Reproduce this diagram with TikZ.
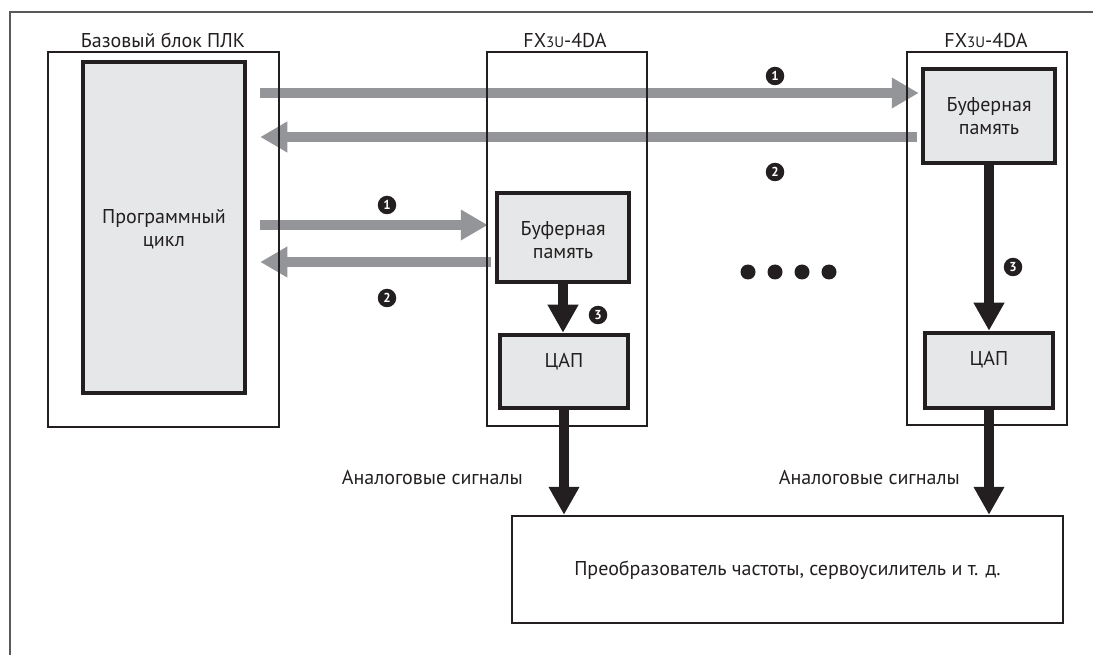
\documentclass[tikz,border=0pt]{standalone}
\usepackage{fontspec}
\setmainfont{PT Sans}
\usetikzlibrary{arrows.meta,calc}
\definecolor{ink}{HTML}{231F20}
\definecolor{boxfill}{HTML}{E6E7E8}
\definecolor{arrgray}{HTML}{939598}
\definecolor{framegray}{HTML}{58595B}
\tikzset{
  txt/.style={text=ink,font=\fontsize{20}{23}\selectfont,inner sep=0pt,align=center},
  modbox/.style={draw=ink,line width=2.2pt,inner sep=0pt},
  innerbox/.style={draw=ink,fill=boxfill,line width=4.5pt,inner sep=0pt},
  outbox/.style={draw=ink,line width=2.4pt,inner sep=0pt},
  garrow/.style={draw=arrgray,line width=10pt,-{Triangle[length=27pt,width=29pt]}},
  barrow/.style={draw=ink,line width=10pt,-{Triangle[length=28pt,width=29pt]}},
  num/.style={circle,fill=ink,text=white,inner sep=0pt,minimum size=18.5pt,font=\fontsize{13}{13}\selectfont\bfseries},
  dot/.style={circle,fill=ink,inner sep=0pt,minimum size=15pt},
}
\begin{document}
\begin{tikzpicture}[x=1pt,y=-1pt]
\useasboundingbox (0,0) rectangle (1093,655);
% outer frame (cropped)
\draw[framegray,line width=2pt] (10,655) -- (10,12) -- (1093,12);

% titles
\node[txt] (tplc) at (163,40) {Базовый блок ПЛК};
\node[txt] (tm1) at (565,40) {FX{\fontsize{15}{15}\selectfont 3U}-4DA};
\node[txt] (tm2) at (986,40) {FX{\fontsize{15}{15}\selectfont 3U}-4DA};

% inner boxes
\node[innerbox,minimum width=162pt,minimum height=331pt] (cycle) at (164,227.5) {};
\node[txt] (cycletxt) at (164,229) {Программный\\цикл};

\node[innerbox,minimum width=132pt,minimum height=89pt] (mbuf) at (563,237.5) {};
\node[txt] (mbuftxt) at (563,240) {Буферная\\память};
\node[innerbox,minimum width=128pt,minimum height=73pt] (mdac) at (564,371.5) {};
\node[txt] (mdactxt) at (564,362) {ЦАП};

\node[innerbox,minimum width=132pt,minimum height=94pt] (rbuf) at (989,116) {};
\node[txt] (rbuftxt) at (989,116) {Буферная\\память};
\node[innerbox,minimum width=128pt,minimum height=75pt] (rdac) at (989,370.5) {};
\node[txt] (rdactxt) at (989,360) {ЦАП};

\node[outbox,minimum width=551pt,minimum height=107pt] (conv) at (787.5,569.5) {};
\node[txt] (convtxt) at (787.5,570) {Преобразователь частоты, сервоусилитель и т. д.};

% gray arrows
\draw[garrow] ($(cycle.east |- rbuf.west)+(13,-23)$) -- ($(rbuf.west)+(-2,-23)$);
\draw[garrow] ($(rbuf.west)+(-4,21)$) -- ($(cycle.east |- rbuf.west)+(13,21)$);
\draw[garrow] ($(cycle.east |- mbuf.west)+(13,-12.5)$) -- ($(mbuf.west)+(-7,-12.5)$);
\draw[garrow] ($(mbuf.west)+(-4,24.5)$) -- ($(cycle.east |- mbuf.west)+(13,24.5)$);

% module frames (over the arrows)
\node[modbox,minimum width=231pt,minimum height=375pt] (plc) at (163.5,239.5) {};
\node[modbox,minimum width=160pt,minimum height=374pt] (mod1) at (567,239) {};
\node[modbox,minimum width=160pt,minimum height=373pt] (mod2) at (987,238.5) {};

% black arrows
\draw[barrow] (mbuf.south) -- (mbuf.south |- mdac.north);
\draw[barrow] (rbuf.south) -- (rbuf.south |- rdac.north);
\draw[barrow] (mdac.south) -- (mdac.south |- conv.north);
\draw[barrow] (rdac.south) -- (rdac.south |- conv.north);

% numbers
\node[num] (n1a) at (775,76) {1};
\node[num] (n2a) at (775,172) {2};
\node[num] (n1b) at (387,205) {1};
\node[num] (n2b) at (387,298) {2};
\node[num] (n3b) at (598,315) {3};
\node[num] (n3a) at (1013,267) {3};

% dots
\node[dot] (d1) at (748,272) {};
\node[dot] (d2) at (775,272) {};
\node[dot] (d3) at (802,272) {};
\node[dot] (d4) at (829,272) {};

% analog labels
\node[txt,anchor=east] (al1) at (523,478) {Аналоговые сигналы};
\node[txt,anchor=east] (al2) at (960,478) {Аналоговые сигналы};
\end{tikzpicture}
\end{document}
